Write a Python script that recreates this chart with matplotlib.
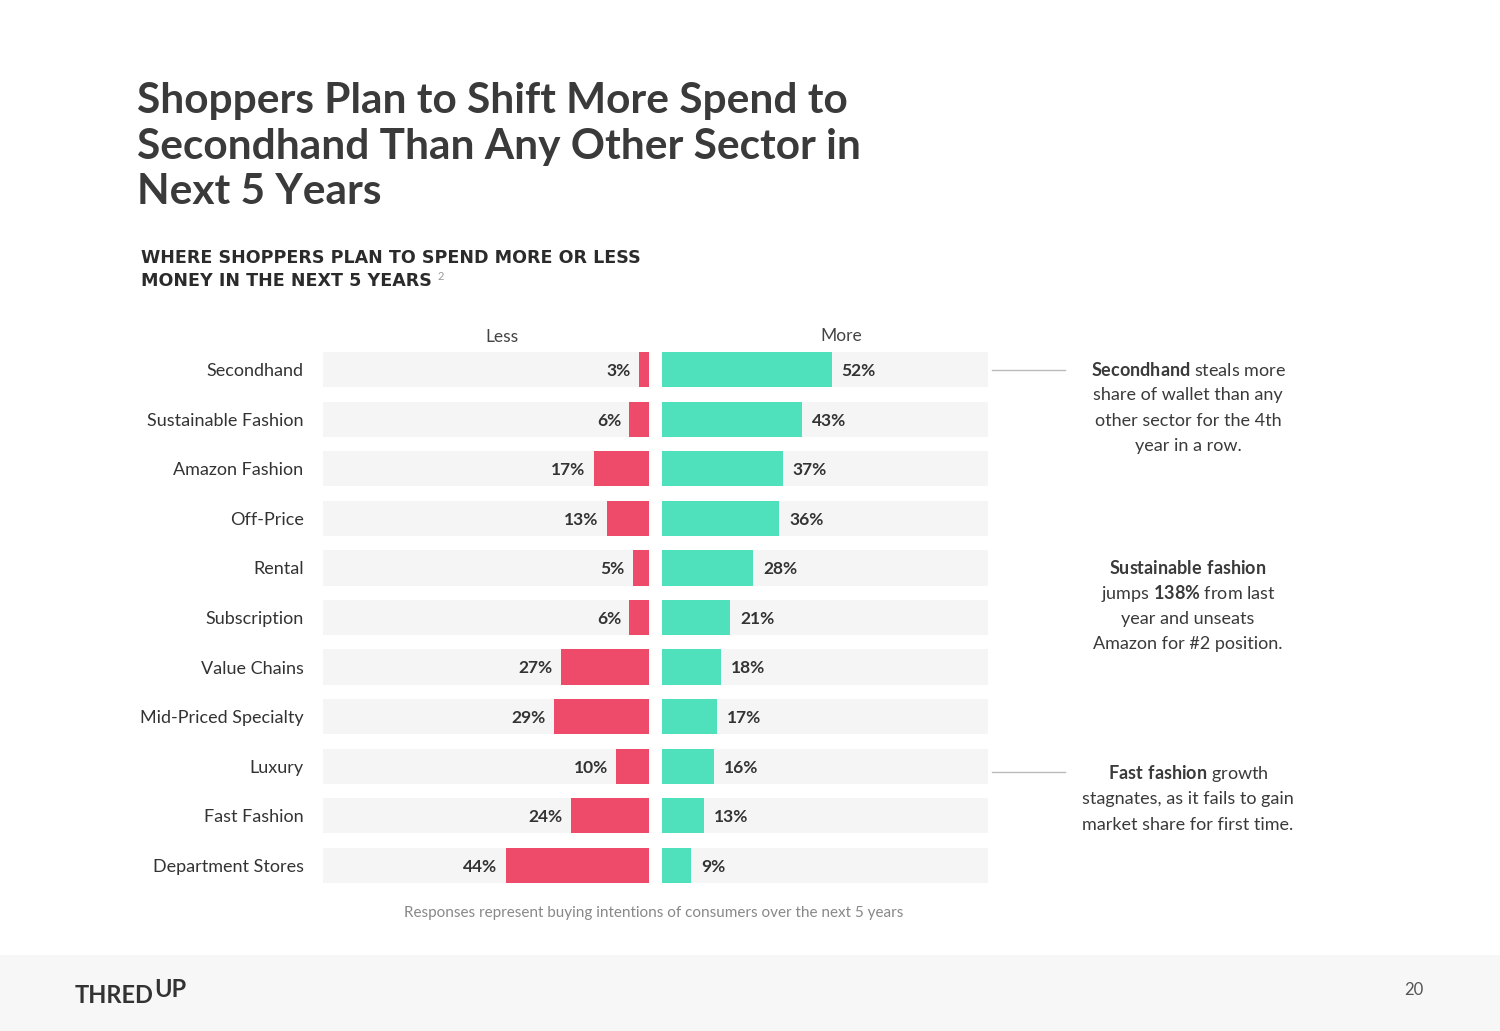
#!/usr/bin/env python3
import numpy as np
import matplotlib
matplotlib.use('Agg')
import matplotlib.pyplot as plt
from matplotlib.patches import Rectangle
from matplotlib.lines import Line2D

# data
categories = ['Secondhand', 'Sustainable Fashion', 'Amazon Fashion', 'Off-Price', 'Rental',
              'Subscription', 'Value Chains', 'Mid-Priced Specialty', 'Luxury',
              'Fast Fashion', 'Department Stores']
less_pct = [3, 6, 17, 13, 5, 6, 27, 29, 10, 24, 44]
more_pct = [52, 43, 37, 36, 28, 21, 18, 17, 16, 13, 9]

title = 'Shoppers Plan to Shift More Spend to\nSecondhand Than Any Other Sector in\nNext 5 Years'
subtitle_lines = ['WHERE SHOPPERS PLAN TO SPEND MORE OR LESS', 'MONEY IN THE NEXT 5 YEARS']
footnote = 'Responses represent buying intentions of consumers over the next 5 years'
notes = [
    [r'$\bf{Secondhand}$ steals more', 'share of wallet than any', 'other sector for the 4th', 'year in a row.'],
    [r'$\bf{Sustainable\ fashion}$', r'jumps $\bf{138\%}$ from last', 'year and unseats', 'Amazon for #2 position.'],
    [r'$\bf{Fast\ fashion}$ growth', 'stagnates, as it fails to gain', 'market share for first time.'],
]

RED = '#EE4B6A'
GREEN = '#4FE0BC'
TRACK = '#F5F5F5'
DARK = '#333333'

plt.rcParams['font.family'] = ['Lato', 'DejaVu Sans']
plt.rcParams['mathtext.fontset'] = 'custom'
plt.rcParams['mathtext.rm'] = 'Lato'
plt.rcParams['mathtext.bf'] = 'Lato:bold'

W, H = 1500, 1031
fig = plt.figure(figsize=(W / 100, H / 100), dpi=100)
fig.patch.set_facecolor('white')


def fx(x):
    return x / W


def fy(y):
    return 1 - y / H


# footer band
fig.patches.append(Rectangle((0, 0), 1, fy(955), transform=fig.transFigure,
                             facecolor='#F7F7F7', edgecolor='none', zorder=0))

# title block
fig.text(fx(137), fy(82), title, ha='left', va='top', fontsize=30.5, weight='bold',
         color='#3A3A3A', linespacing=1.25)
sub_texts = []
for i, line in enumerate(subtitle_lines):
    sub_texts.append(fig.text(fx(141), fy(263 + i * 23), line, ha='left', va='baseline',
                              fontsize=12.6, weight='bold', color='#2B2B2B',
                              family='DejaVu Sans'))
renderer = fig.canvas.get_renderer()
bb = sub_texts[-1].get_window_extent(renderer)
fig.text(bb.x1 / W + fx(6), fy(280), '2', ha='left', va='baseline', fontsize=8, color='#999999')

# main chart
ax = fig.add_axes([fx(323), fy(890), (988 - 323) / W, (890 - 345) / H])
ax.set_facecolor('none')
y = np.arange(len(categories))
gap = 2
h = 0.71

ax.barh(y, [100] * len(y), left=-100 - gap, height=h, color=TRACK, zorder=1)
ax.barh(y, [100] * len(y), left=gap, height=h, color=TRACK, zorder=1)
ax.barh(y, [-v for v in less_pct], left=-gap, height=h, color=RED, zorder=2)
ax.barh(y, more_pct, left=gap, height=h, color=GREEN, zorder=2)

for yi, lv, mv in zip(y, less_pct, more_pct):
    ax.annotate(f'{lv}%', (-gap - lv, yi), xytext=(-6, -1), textcoords='offset points',
                ha='right', va='center', fontsize=12.5, weight='bold', color=DARK)
    ax.annotate(f'{mv}%', (gap + mv, yi), xytext=(7, -1), textcoords='offset points',
                ha='left', va='center', fontsize=12.5, weight='bold', color=DARK)

ax.set_xlim(-102, 102)
ax.set_ylim(len(y) - 0.5, -0.5)
ax.set_yticks(y)
ax.set_yticklabels(categories, fontsize=13, color=DARK)
ax.tick_params(axis='y', length=0, pad=14)
ax.set_xticks([])
for s in ax.spines.values():
    s.set_visible(False)

ax.text(-47, -0.5, 'Less', ha='center', va='bottom', fontsize=12.5, color='#444444')
ax.text(57, -0.52, 'More', ha='center', va='bottom', fontsize=12.5, color='#444444')

# connector lines to the notes
fig.lines.append(Line2D([fx(992), fx(1065)], [fy(370), fy(370)], transform=fig.transFigure,
                        color='#BBBBBB', lw=1))
fig.lines.append(Line2D([fx(992), fx(1065)], [fy(772), fy(772)], transform=fig.transFigure,
                        color='#BBBBBB', lw=1))

note_tops = [370, 568, 774]
for top, lines in zip(note_tops, notes):
    for i, line in enumerate(lines):
        fig.text(fx(1188), fy(top + i * 25.3), line, ha='center', va='center',
                 fontsize=13, color='#3A3A3A')

fig.text(fx(654), fy(913), footnote, ha='center', va='center', fontsize=11, color='#888888')

# footer
fig.text(fx(75), fy(1003), 'THRED', ha='left', va='baseline', fontsize=17, weight='bold',
         color='#333333')
fig.text(fx(154), fy(997), 'UP', ha='left', va='baseline', fontsize=17, weight='bold',
         color='#333333')
fig.text(fx(1414), fy(990), '20', ha='center', va='center', fontsize=12, color='#555555')

fig.savefig('out.png', dpi=100)
